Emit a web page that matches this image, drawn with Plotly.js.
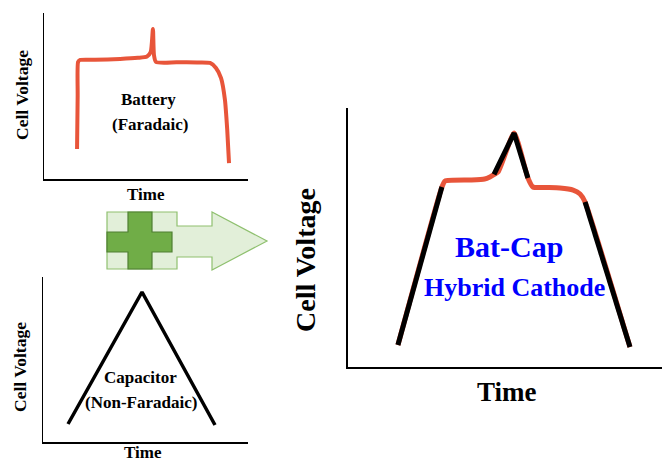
<!DOCTYPE html>
<html>
<head>
<meta charset="utf-8">
<script src="https://cdn.plot.ly/plotly-3.0.1.min.js"></script>
<style>html,body{margin:0;padding:0;background:#fff;}#chart{width:662px;height:463px;}</style>
</head>
<body>
<div id="chart"></div>
<script>
// Battery (Faradaic) curve
var batteryTime = [16.2, 16.5, 16.7, 17.6, 25, 37.3, 46, 50.5, 52.3, 53.4, 53.9, 54.9, 65, 75, 81.4, 84.3, 86.8, 88.7, 89.8, 90.7];
var batteryVolt = [18.1, 50, 70.5, 71.7, 71.8, 72.3, 73.0, 73.8, 76.5, 90.4, 74.7, 70.5, 70.3, 70.2, 69.9, 66.9, 60.8, 47.6, 30, 9.6];

// Capacitor (Non-Faradaic) curve
var capTime = [12.2, 48.3, 83.9];
var capVolt = [10.9, 90.9, 10.3];

// Bat-Cap hybrid cathode curve (full, red)
var hybridTime = [15.9, 29.9, 30.9, 38.9, 43.5, 45.2, 47.8, 52.9, 57.3, 58.9, 63, 67.5, 71.7, 73.9, 75.5, 89.8];
var hybridVolt = [8.5, 69.5, 71.8, 72.2, 72.6, 73.4, 75.3, 90.3, 73.0, 69.5, 69.3, 69.1, 68.3, 66.8, 63.7, 7.7];
// capacitive (black) segments of the hybrid curve
var capSeg1Time = [15.9, 29.9];
var capSeg1Volt = [8.5, 69.5];
var capSeg2Time = [46.5, 52.9, 57.3];
var capSeg2Volt = [74.4, 90.3, 73.0];
var capSeg3Time = [75.5, 89.8];
var capSeg3Volt = [63.7, 7.7];

var labels = {
  battery: ["Battery", "(Faradaic)"],
  capacitor: ["Capacitor", "(Non-Faradaic)"],
  hybrid: ["Bat-Cap", "Hybrid Cathode"],
  xTitle: "Time",
  yTitle: "Cell Voltage"
};

var W = 662, H = 463;
function fx(p){ return p / W; }
function fy(p){ return 1 - p / H; }

var RED = '#e8553a';
var traces = [
  {x: batteryTime, y: batteryVolt, xaxis: 'x', yaxis: 'y', mode: 'lines', line: {color: RED, width: 4, shape: 'spline', smoothing: 0.6}},
  {x: capTime, y: capVolt, xaxis: 'x2', yaxis: 'y2', mode: 'lines', line: {color: '#000', width: 3.5}},
  {x: hybridTime, y: hybridVolt, xaxis: 'x3', yaxis: 'y3', mode: 'lines', line: {color: RED, width: 5, shape: 'spline', smoothing: 0.5}},
  {x: capSeg1Time, y: capSeg1Volt, xaxis: 'x3', yaxis: 'y3', mode: 'lines', line: {color: '#000', width: 5}},
  {x: capSeg2Time, y: capSeg2Volt, xaxis: 'x3', yaxis: 'y3', mode: 'lines', line: {color: '#000', width: 5}},
  {x: capSeg3Time, y: capSeg3Volt, xaxis: 'x3', yaxis: 'y3', mode: 'lines', line: {color: '#000', width: 5}}
];

function ax(domain, anchor, lw){
  return {domain: domain, anchor: anchor, range: [0, 100], showline: true, linecolor: '#000', linewidth: lw,
    showgrid: false, zeroline: false, showticklabels: false, ticks: '', fixedrange: true};
}

var F = 'Liberation Serif, Times New Roman, serif';
function ann(text, x, y, size, color, angle){
  return {text: text, x: fx(x), y: fy(y), xref: 'paper', yref: 'paper', showarrow: false,
    xanchor: 'center', yanchor: 'middle', textangle: angle || 0,
    font: {family: F, size: size, color: color || '#000', weight: 'bold'}};
}

var arrowPath = 'M' + fx(107) + ',' + fy(212) + ' L' + fx(177) + ',' + fy(212) + ' L' + fx(177) + ',' + fy(226) +
  ' L' + fx(212) + ',' + fy(226) + ' L' + fx(212) + ',' + fy(212) + ' L' + fx(267) + ',' + fy(241) +
  ' L' + fx(212) + ',' + fy(270) + ' L' + fx(212) + ',' + fy(257) + ' L' + fx(177) + ',' + fy(257) +
  ' L' + fx(177) + ',' + fy(269) + ' L' + fx(107) + ',' + fy(269) + ' Z';
var plusPts = [[128,212],[152,212],[152,232],[172,232],[172,252],[152,252],[152,269],[128,269],[128,252],[107,252],[107,232],[128,232]];
var plusPath = plusPts.map(function(p, i){ return (i ? 'L' : 'M') + fx(p[0]) + ',' + fy(p[1]); }).join(' ') + ' Z';

var layout = {
  width: W, height: H, margin: {l: 0, r: 0, t: 0, b: 0},
  paper_bgcolor: '#fff', plot_bgcolor: 'rgba(0,0,0,0)', showlegend: false,
  xaxis: ax([fx(44), fx(248)], 'y', 1.5),
  yaxis: ax([fy(179), fy(13)], 'x', 1.5),
  xaxis2: ax([fx(43), fx(248)], 'y2', 1.5),
  yaxis2: ax([fy(442), fy(277)], 'x2', 1.5),
  xaxis3: ax([fx(348), fx(662)], 'y3', 2),
  yaxis3: ax([fy(367), fy(108)], 'x3', 2),
  shapes: [
    {type: 'path', xref: 'paper', yref: 'paper', path: arrowPath, fillcolor: '#e2efd9', line: {color: '#8fc06f', width: 1.2}},
    {type: 'path', xref: 'paper', yref: 'paper', path: plusPath, fillcolor: '#70ad47', line: {color: '#4f7f32', width: 1.2}}
  ],
  annotations: [
    ann(labels.battery[0], 148, 100, 17),
    ann(labels.battery[1], 150, 124, 17),
    ann(labels.yTitle, 22, 95, 17.5, '#000', -90),
    ann(labels.xTitle, 146, 194, 17),
    ann(labels.capacitor[0], 140, 377, 17),
    ann(labels.capacitor[1], 141, 402, 17),
    ann(labels.yTitle, 20, 367, 17.5, '#000', -90),
    ann(labels.xTitle, 143, 452, 17),
    ann(labels.hybrid[0], 509, 246, 30, '#0000ff'),
    ann(labels.hybrid[1], 514, 287, 26, '#0000ff'),
    ann(labels.yTitle, 305, 260, 28, '#000', -90),
    ann(labels.xTitle, 507, 392, 27)
  ]
};

Plotly.newPlot('chart', traces, layout, {displayModeBar: false, staticPlot: true});
</script>
</body>
</html>
